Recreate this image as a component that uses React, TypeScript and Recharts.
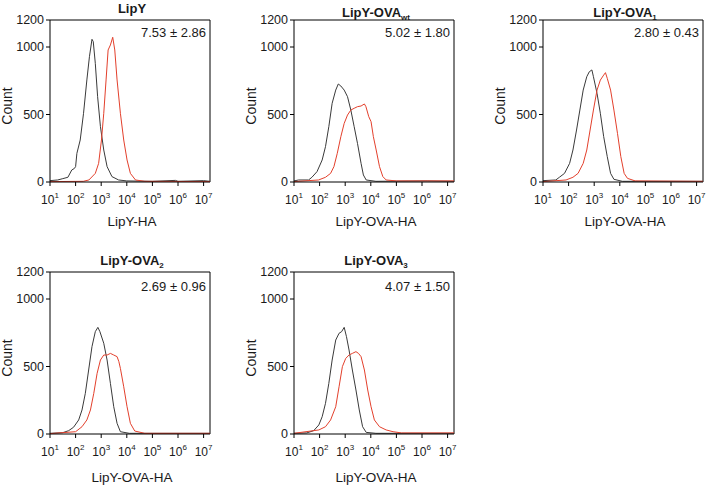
import React from 'react';
import { LineChart, Line, XAxis, YAxis, ReferenceLine } from 'recharts';

type Pt = [number, number]; // [log10 intensity, count]

const X_TICKS = [1, 2, 3, 4, 5, 6, 7];
const Y_TICKS = [0, 500, 1000, 1200];

const TITLES = ['LipY', 'LipY-OVA', 'LipY-OVA', 'LipY-OVA', 'LipY-OVA'];
const TITLE_SUBS = ['', 'wt', '1', '2', '3'];
const STATS = ['7.53 ± 2.86', '5.02 ± 1.80', '2.80 ± 0.43', '2.69 ± 0.96', '4.07 ± 1.50'];
const X_LABELS = ['LipY-HA', 'LipY-OVA-HA', 'LipY-OVA-HA', 'LipY-OVA-HA', 'LipY-OVA-HA'];

const lipyCtrl: Pt[] = [
  [1, 10], [1.3, 15], [1.5, 25], [1.7, 35], [1.85, 89], [1.95, 100], [2.0, 114], [2.05, 212],
  [2.18, 311], [2.31, 509], [2.44, 756], [2.54, 928], [2.64, 1057], [2.69, 1040], [2.77, 879],
  [2.86, 632], [2.97, 410], [3.1, 237], [3.23, 114], [3.42, 40], [3.68, 15], [4.0, 8],
  [5.0, 5], [5.9, 12], [6.0, 5], [7.0, 10], [7.25, 5],
];
const lipyHA: Pt[] = [
  [1, 3], [2.3, 5], [2.52, 15], [2.77, 64], [2.9, 138], [3.01, 311], [3.1, 509], [3.19, 756],
  [3.27, 978], [3.36, 1015], [3.45, 1072], [3.53, 978], [3.62, 756], [3.75, 509], [3.88, 311],
  [4.01, 163], [4.14, 64], [4.34, 15], [4.7, 5], [7.25, 3],
];

const ovaWtCtrl: Pt[] = [
  [1, 8], [1.18, 15], [1.57, 15], [1.7, 35], [1.9, 77], [2.1, 163], [2.23, 262], [2.36, 410],
  [2.49, 583], [2.63, 681], [2.73, 726], [2.83, 711], [2.96, 681], [3.09, 632], [3.22, 533],
  [3.35, 410], [3.48, 286], [3.62, 138], [3.71, 52], [3.82, 15], [4.2, 5], [6.2, 8], [7.25, 5],
];
const ovaWtHA: Pt[] = [
  [1, 3], [1.96, 15], [2.23, 35], [2.43, 64], [2.56, 114], [2.69, 212], [2.83, 336], [2.96, 434],
  [3.09, 496], [3.22, 533], [3.35, 546], [3.48, 558], [3.62, 563], [3.75, 578], [3.81, 558],
  [3.92, 484], [4.01, 447], [4.1, 336], [4.21, 237], [4.34, 114], [4.47, 40], [4.6, 15],
  [5.0, 8], [7.25, 8],
];

const ova1Ctrl: Pt[] = [
  [1, 10], [1.5, 15], [1.64, 35], [1.84, 64], [2.04, 138], [2.17, 237], [2.31, 385], [2.44, 533],
  [2.57, 681], [2.71, 780], [2.81, 817], [2.91, 830], [2.97, 780], [3.11, 657], [3.24, 509],
  [3.37, 336], [3.51, 188], [3.64, 64], [3.77, 20], [4.1, 5], [7.25, 5],
];
const ova1HA: Pt[] = [
  [1, 3], [1.9, 15], [2.17, 35], [2.37, 64], [2.57, 138], [2.71, 237], [2.84, 385], [2.97, 533],
  [3.11, 681], [3.24, 755], [3.37, 792], [3.44, 810], [3.51, 768], [3.64, 681], [3.77, 533],
  [3.91, 360], [4.04, 188], [4.17, 64], [4.3, 27], [4.6, 8], [7.25, 5],
];

const ova2Ctrl: Pt[] = [
  [1, 5], [1.5, 10], [1.73, 25], [1.92, 50], [2.12, 104], [2.25, 178], [2.38, 301], [2.51, 474],
  [2.64, 647], [2.77, 758], [2.87, 790], [2.95, 758], [3.1, 672], [3.23, 548], [3.36, 375],
  [3.49, 202], [3.62, 79], [3.75, 17], [4.1, 5], [7.25, 5],
];
const ova2HA: Pt[] = [
  [1, 3], [2.0, 17], [2.25, 54], [2.44, 104], [2.58, 178], [2.71, 301], [2.84, 449], [2.97, 548],
  [3.1, 585], [3.23, 585], [3.36, 597], [3.49, 585], [3.62, 573], [3.69, 536], [3.75, 486],
  [3.88, 350], [4.01, 202], [4.14, 79], [4.31, 22], [4.7, 5], [7.25, 5],
];

const ova3Ctrl: Pt[] = [
  [1, 5], [1.5, 8], [1.77, 25], [1.97, 67], [2.1, 128], [2.23, 227], [2.36, 375], [2.49, 548],
  [2.63, 696], [2.76, 746], [2.86, 758], [2.96, 790], [3.05, 721], [3.15, 622], [3.28, 474],
  [3.42, 326], [3.55, 178], [3.68, 54], [3.82, 12], [4.2, 5], [7.25, 5],
];
const ova3HA: Pt[] = [
  [1, 5], [1.97, 30], [2.23, 54], [2.43, 104], [2.63, 202], [2.76, 350], [2.89, 499], [3.02, 560],
  [3.15, 585], [3.28, 597], [3.42, 610], [3.52, 597], [3.62, 573], [3.75, 474], [3.88, 326],
  [4.01, 202], [4.14, 104], [4.34, 54], [4.6, 30], [4.87, 17], [5.2, 8], [7.25, 8],
];

const CTRL = [lipyCtrl, ovaWtCtrl, ova1Ctrl, ova2Ctrl, ova3Ctrl];
const HA = [lipyHA, ovaWtHA, ova1HA, ova2HA, ova3HA];

// layout: plot-area top-left corner of each panel
const PLOTS = [
  { left: 50, top: 20, titleY: 8, labelY: 40 },
  { left: 294, top: 20, titleY: 12, labelY: 40 },
  { left: 543, top: 20, titleY: 12, labelY: 40 },
  { left: 50, top: 272, titleY: 260, labelY: 44 },
  { left: 294, top: 272, titleY: 260, labelY: 44 },
];
const PW = 160;
const PH = 162;
const YW = 50;
const FONT = '"Liberation Sans", Arial, Helvetica, sans-serif';
const INK = '#1a1a1a';

const toRows = (pts: Pt[]) => pts.map(([x, y]) => ({ x, y }));

const LogTick = ({ x, y, payload }: any) => (
  <text x={x} y={y + 16} textAnchor="middle" fontSize={12} fill={INK} fontFamily={FONT}>
    <tspan>10</tspan>
    <tspan dy={-6} fontSize={8}>{payload.value}</tspan>
  </text>
);

const centered: React.CSSProperties = {
  position: 'absolute',
  transform: 'translate(-50%, -50%)',
  whiteSpace: 'nowrap',
  fontFamily: FONT,
  color: INK,
  lineHeight: 1,
};

function Panel({ i }: { i: number }) {
  const p = PLOTS[i];
  return (
    <>
      <div style={{ position: 'absolute', left: p.left - YW, top: p.top - 20 }}>
        <LineChart width={YW + PW + 4} height={20 + PH + 50} margin={{ top: 20, right: 4, bottom: 0, left: 0 }}>
          <XAxis
            type="number"
            dataKey="x"
            domain={[1, 7.25]}
            ticks={X_TICKS}
            tick={<LogTick />}
            tickSize={4}
            height={50}
            allowDataOverflow
            axisLine={{ stroke: '#000', strokeWidth: 1 }}
            tickLine={{ stroke: '#000' }}
          />
          <YAxis
            type="number"
            domain={[0, 1200]}
            ticks={Y_TICKS}
            width={YW}
            tickSize={4}
            interval={0}
            tick={{ fontSize: 12.5, fill: INK, fontFamily: FONT }}
            axisLine={{ stroke: '#000', strokeWidth: 1 }}
            tickLine={{ stroke: '#000' }}
          />
          <ReferenceLine y={1200} stroke="#000" strokeWidth={1} />
          <ReferenceLine x={7.25} stroke="#000" strokeWidth={1} />
          <Line
            data={toRows(CTRL[i])}
            dataKey="y"
            type="linear"
            stroke="#3a3a3a"
            strokeWidth={1}
            dot={false}
            isAnimationActive={false}
          />
          <Line
            data={toRows(HA[i])}
            dataKey="y"
            type="linear"
            stroke="#e3402c"
            strokeWidth={1}
            dot={false}
            isAnimationActive={false}
          />
        </LineChart>
      </div>
      <div style={{ ...centered, left: p.left + PW / 2 + 2, top: p.titleY, fontSize: 13, fontWeight: 700 }}>
        {TITLES[i]}
        {TITLE_SUBS[i] && <span style={{ fontSize: 8, position: 'relative', top: 3 }}>{TITLE_SUBS[i]}</span>}
      </div>
      <div
        style={{
          position: 'absolute',
          right: 707 - (p.left + PW - 4),
          top: p.top + (i < 3 ? 13 : 15) - 7,
          fontSize: 13,
          fontFamily: FONT,
          color: INK,
          lineHeight: 1,
          whiteSpace: 'nowrap',
        }}
      >
        {STATS[i]}
      </div>
      <div style={{ ...centered, left: p.left - 43, top: p.top + PH / 2 + 5, fontSize: 14, transform: 'translate(-50%, -50%) rotate(-90deg)' }}>
        Count
      </div>
      <div style={{ ...centered, left: p.left + PW / 2 + 2, top: p.top + PH + p.labelY, fontSize: 13.5 }}>
        {X_LABELS[i]}
      </div>
    </>
  );
}

export default function App() {
  return (
    <div style={{ position: 'absolute', left: 0, top: 0, width: 707, height: 486, overflow: 'hidden', background: '#fff' }}>
      {PLOTS.map((_, i) => (
        <Panel key={i} i={i} />
      ))}
    </div>
  );
}
